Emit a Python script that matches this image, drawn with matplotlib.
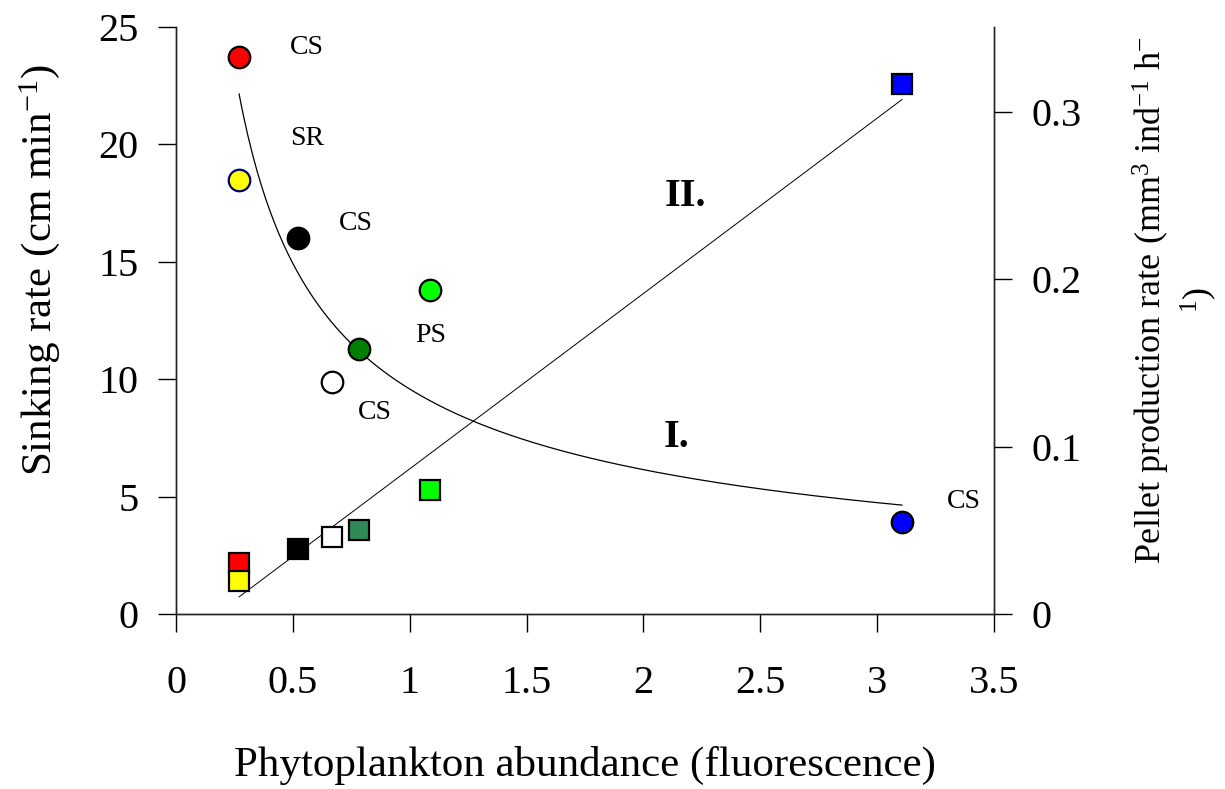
import matplotlib.pyplot as plt
import numpy as np

plt.rcParams['font.family'] = ['Liberation Serif', 'DejaVu Serif']
plt.rcParams['mathtext.fontset'] = 'custom'
plt.rcParams['mathtext.rm'] = 'Liberation Serif'
plt.rcParams['mathtext.it'] = 'Liberation Serif:italic'

# phytoplankton abundance (fluorescence) for each treatment
x = [0.27, 0.27, 0.522, 0.667, 0.783, 1.087, 3.106]

# sinking rate (circles, left axis)
sink = [23.72, 18.48, 16.01, 9.88, 11.29, 13.80, 3.92]
circ_face = ['#ff0000', '#ffff00', '#000000', '#ffffff', '#008000', '#00ff00', '#0000ff']
circ_edge = ['black', '#000080', 'black', 'black', 'black', 'black', 'black']

# pellet production rate (squares, right axis)
pellet = [0.0305, 0.0197, 0.0389, 0.046, 0.0502, 0.0741, 0.3168]
sq_face = ['#ff0000', '#ffff00', '#000000', '#ffffff', '#2e8b57', '#00ff00', '#0000ff']

# power fit of sinking rate, y = a * x^b
pow_a = 9.58
pow_b = -0.64

labels = ['CS', 'SR', 'CS', 'CS', '', 'PS', 'CS']
label_pos = [(0.56, 24.13), (0.56, 20.23), (0.77, 16.63), (0.85, 8.6), None, (1.09, 11.88), (3.37, 4.8)]

fig = plt.figure(figsize=(12.25, 7.89), dpi=100)
ax = fig.add_axes([176/1225, 1 - 614/789, (994-176)/1225, (614-27)/789])
ax2 = ax.twinx()

xs = np.linspace(min(x), max(x), 300)
ax.plot(xs, pow_a * xs ** pow_b, color='black', lw=0.9, zorder=2)

k, c = np.polyfit(x, pellet, 1)
ax2.plot(xs, k * xs + c, color='black', lw=0.7, zorder=2)

for xi, yi, fc, ec in zip(x, sink, circ_face, circ_edge):
    ax.plot(xi, yi, 'o', ms=15.5, mfc=fc, mec=ec, mew=1.6, zorder=3)
for xi, yi, fc in zip(x, pellet, sq_face):
    ax2.plot(xi, yi, 's', ms=14.5, mfc=fc, mec='black', mew=1.6, zorder=3)

for lab, pos in zip(labels, label_pos):
    if lab:
        ax.text(pos[0], pos[1], lab, fontsize=20, ha='center', va='center')

ax.text(2.18, 17.8, 'II.', fontsize=29, fontweight='bold', ha='center', va='center')
ax.text(2.14, 7.5, 'I.', fontsize=29, fontweight='bold', ha='center', va='center')

ax.set_xlim(0, 3.5)
ax.set_ylim(0, 25)
ax2.set_ylim(0, 0.3508)
ax.set_xticks([0, 0.5, 1, 1.5, 2, 2.5, 3, 3.5])
ax.set_xticklabels(['0', '0.5', '1', '1.5', '2', '2.5', '3', '3.5'])
ax.set_yticks([0, 5, 10, 15, 20, 25])
ax2.set_yticks([0, 0.1, 0.2, 0.3])
ax2.set_yticklabels(['0', '0.1', '0.2', '0.3'])

ax.tick_params(axis='x', length=13, width=1, labelsize=29, pad=24, direction='out')
ax.tick_params(axis='y', length=13, width=1, labelsize=29, pad=14, direction='out')
ax2.tick_params(axis='y', length=13, width=1, labelsize=29, pad=14, direction='out')

for a in (ax, ax2):
    a.spines['top'].set_visible(False)
    for s in a.spines.values():
        s.set_color('#222222')
        s.set_linewidth(1)

fig.text(585/1225, 1 - 765/789, 'Phytoplankton abundance (fluorescence)',
         fontsize=31, ha='center', va='center')
fig.text(40/1225, 1 - 270/789, 'Sinking rate (cm min$^{-1}$)',
         fontsize=31, ha='center', va='center', rotation=90)
fig.text(1175/1225, 1 - 300/789, 'Pellet production rate (mm$^{3}$ ind$^{-1}$ h$^{-}$\n$^{1}$)',
         fontsize=26, ha='center', va='center', rotation=90, multialignment='center')

fig.savefig('out.png', dpi=100)
